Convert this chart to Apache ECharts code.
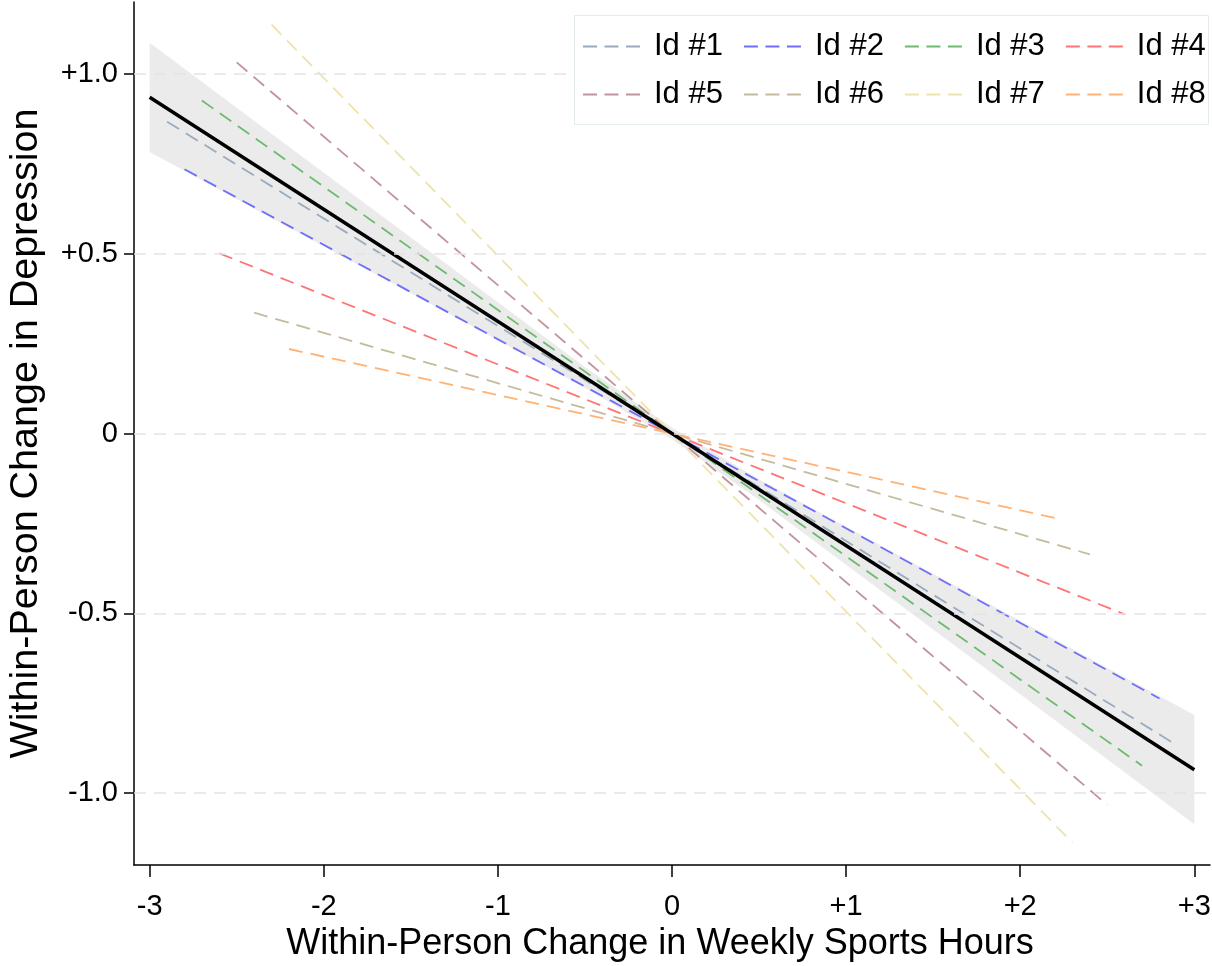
<!DOCTYPE html>
<html>
<head>
<meta charset="utf-8">
<script src="https://cdn.jsdelivr.net/npm/echarts@6/dist/echarts.min.js"></script>
<style>html,body{margin:0;padding:0;background:#fff;}#c{width:1212px;height:966px;}</style>
</head>
<body>
<div id="c"></div>
<script>
// ---- data ----
const idNames = ['Id #1','Id #2','Id #3','Id #4','Id #5','Id #6','Id #7','Id #8'];
const idColors = ['#9aabbd','#6f6ffa','#6dbb6d','#ff7474','#c2939b','#c4bb9c','#efe3ac','#ffb274'];
const idStartX = [-2.9, -2.8, -2.7, -2.6, -2.5, -2.4, -2.3, -2.2];
const idStartY = [0.867, 0.735, 0.926, 0.501, 1.032, 0.336, 1.137, 0.235];
const idEndX   = [2.9, 2.8, 2.7, 2.6, 2.5, 2.4, 2.3, 2.2];
const idEndY   = [-0.867, -0.737, -0.924, -0.503, -1.033, -0.336, -1.138, -0.235];
const fitX = [-3, 3];
const fitY = [0.935, -0.935];
const bandX     = [-3, -2, -1, -0.5, 0, 0.5, 1, 2, 3];
const bandUpper = [1.087, 0.725, 0.365, 0.185, 0.016, -0.127, -0.259, -0.521, -0.783];
const bandLower = [0.783, 0.521, 0.259, 0.127, -0.016, -0.185, -0.365, -0.725, -1.087];
const xTicks = [-3, -2, -1, 0, 1, 2, 3];
const yTicks = [-1, -0.5, 0, 0.5, 1];
const yGridLines = [-1, -0.5, 0, 0.5, 1];

const FONT = '"Liberation Sans", Arial, sans-serif';
function signed(v, d) {
  if (v === 0) return '0';
  const s = d ? Math.abs(v).toFixed(d) : String(Math.abs(v));
  return (v > 0 ? '+' : '-') + s;
}

const chart = echarts.init(document.getElementById('c'), null, {renderer: 'canvas'});

const bandPoly = [];
bandX.forEach((x, i) => bandPoly.push([x, bandUpper[i]]));
for (let i = bandX.length - 1; i >= 0; i--) bandPoly.push([bandX[i], bandLower[i]]);

const series = [];
series.push({
  type: 'custom',
  name: 'band',
  silent: true,
  z: 1,
  data: [0],
  renderItem: function (params, api) {
    const pts = bandPoly.map(p => api.coord(p));
    return {type: 'polygon', shape: {points: pts}, style: {fill: '#ebebeb', stroke: null}};
  }
});
series.push({
  type: 'line',
  name: 'grid',
  data: [],
  silent: true,
  z: 0,
  markLine: {
    silent: true,
    symbol: 'none',
    label: {show: false},
    lineStyle: {color: '#e4e4e4', type: [12, 8], width: 1.5},
    data: yGridLines.map(v => ({yAxis: v}))
  }
});
idNames.forEach((n, i) => {
  series.push({
    type: 'line',
    name: n,
    data: [[idStartX[i], idStartY[i]], [idEndX[i], idEndY[i]]],
    showSymbol: false,
    symbol: 'none',
    z: 3,
    lineStyle: {color: idColors[i], width: 1.8, type: [14, 8]},
    itemStyle: {color: idColors[i]}
  });
});
series.push({
  type: 'line',
  name: 'fit',
  data: fitX.map((x, i) => [x, fitY[i]]),
  showSymbol: false,
  symbol: 'none',
  z: 4,
  lineStyle: {color: '#000', width: 3.5}
});

const dashIcon = 'path://M0,0h14v1.8h-14z M21.5,0h14v1.8h-14z M43,0h14v1.8h-14z';
function legendRow(names, top) {
  return {
    data: names.map(n => ({name: n, icon: dashIcon})),
    top: top,
    left: 583,
    orient: 'horizontal',
    padding: 0,
    itemWidth: 57,
    itemHeight: 1.8,
    itemGap: 21,
    z: 20,
    selectedMode: false,
    lineStyle: {width: 0},
    textStyle: {fontFamily: FONT, fontSize: 31, color: '#000', padding: [0, 0, 0, 9]}
  };
}

chart.setOption({
  animation: false,
  backgroundColor: '#fff',
  grid: {left: 134, right: 2, top: 2, bottom: 101, containLabel: false, outerBoundsMode: 'none'},
  xAxis: {
    type: 'value',
    min: -3.09, max: 3.09,
    name: 'Within-Person Change in Weekly Sports Hours',
    nameLocation: 'middle',
    nameGap: 60,
    nameTextStyle: {fontFamily: FONT, fontSize: 36, color: '#000', padding: [0, 24, 0, 0]},
    axisLine: {show: true, onZero: false, lineStyle: {color: '#000', width: 1.5}},
    axisTick: {show: true, length: 12, customValues: xTicks, lineStyle: {color: '#000', width: 1.5}},
    axisLabel: {customValues: xTicks, margin: 27, fontFamily: FONT, fontSize: 29, color: '#000', formatter: v => signed(v, 0)},
    splitLine: {show: false}
  },
  yAxis: {
    type: 'value',
    min: -1.2, max: 1.2,
    name: 'Within-Person Change in Depression',
    nameLocation: 'middle',
    nameGap: 88,
    nameTextStyle: {fontFamily: FONT, fontSize: 39.5, color: '#000'},
    axisLine: {show: true, onZero: false, lineStyle: {color: '#000', width: 1.5}},
    axisTick: {show: true, length: 10, customValues: yTicks, lineStyle: {color: '#000', width: 1.5}},
    axisLabel: {customValues: yTicks, margin: 16, fontFamily: FONT, fontSize: 29, color: '#000', formatter: v => signed(v, 1)},
    splitLine: {show: false}
  },
  graphic: [{
    type: 'rect',
    z: 15,
    shape: {x: 574.5, y: 15.5, width: 634, height: 109},
    style: {fill: '#fff', stroke: '#e3ebee', lineWidth: 1}
  }],
  legend: [legendRow(idNames.slice(0, 4), 31), legendRow(idNames.slice(4), 79)],
  series: series
});
</script>
</body>
</html>
